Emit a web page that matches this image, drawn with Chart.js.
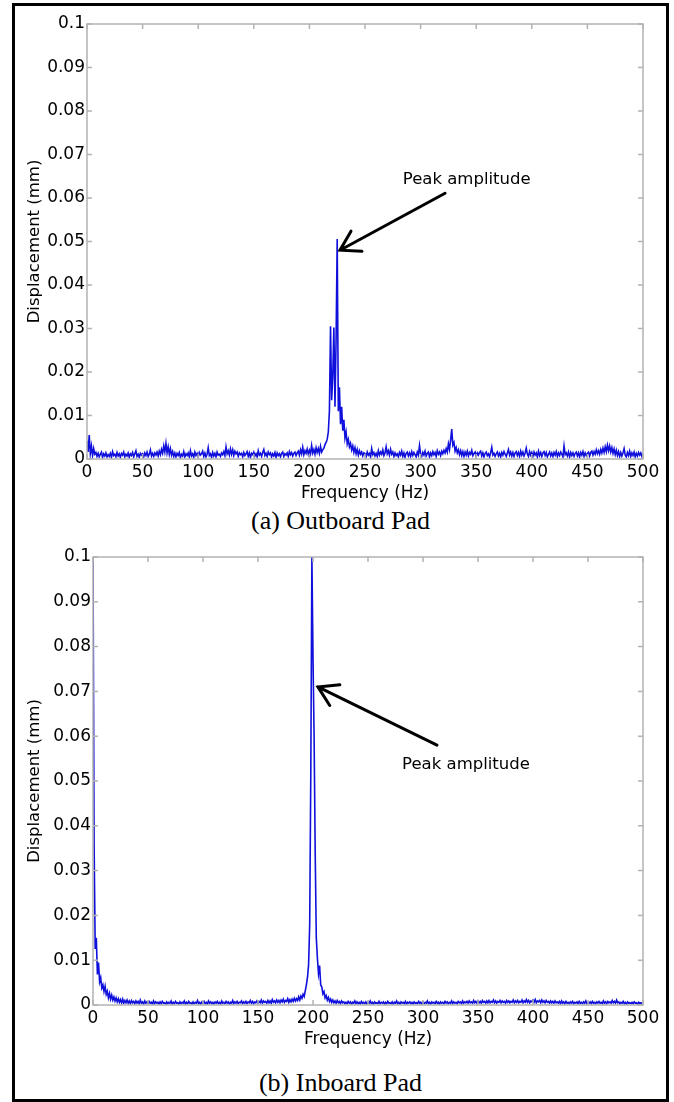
<!DOCTYPE html>
<html>
<head>
<meta charset="utf-8">
<script src="https://cdn.jsdelivr.net/npm/chart.js@4.4.1/dist/chart.umd.min.js"></script>
<style>
  body { margin: 0; background: #fff; width: 674px; height: 1102px; position: relative; overflow: hidden; }
  .frame { position: absolute; left: 12px; top: 3px; width: 657px; height: 1099px; border: 3px solid #000; box-sizing: border-box; z-index: 2; }
  canvas { position: absolute; }
  #outboard { left: 14px; top: 5px; }
  #inboard { left: 14px; top: 540px; }
  .caption { position: absolute; left: 12px; width: 657px; text-align: center; font-family: "Liberation Serif", serif; font-size: 26px; line-height: 30px; color: #000; }
</style>
</head>
<body>
<div class="frame"></div>
<canvas id="outboard" width="653" height="500"></canvas>
<div class="caption" style="top:506px">(a) Outboard Pad</div>
<canvas id="inboard" width="653" height="511"></canvas>
<div class="caption" style="top:1068px">(b) Inboard Pad</div>

<script>
// frequency bins, 1 Hz apart
const freqStep = 1;
const freq = [];
for (let f = 0; f <= 500; f += freqStep) freq.push(f);

const xTicks = [0, 50, 100, 150, 200, 250, 300, 350, 400, 450, 500];
const yTicks = [0, 0.01, 0.02, 0.03, 0.04, 0.05, 0.06, 0.07, 0.08, 0.09, 0.1];

// (a) Outboard Pad - displacement (mm) per bin
const dispOutboard = [
  .0042,.0016,.0055,.0012,.0030,.0008,.0024,.0011,.0015,.0006,
  .0013,.0005,.0011,.0016,.0004,.0012,.0007,.0014,.0005,.0010,
  .0006,.0013,.0004,.0017,.0008,.0011,.0005,.0015,.0007,.0012,
  .0004,.0013,.0009,.0016,.0005,.0011,.0007,.0014,.0004,.0012,
  .0008,.0015,.0005,.0012,.0019,.0006,.0011,.0004,.0013,.0009,
  .0012,.0005,.0014,.0008,.0016,.0006,.0011,.0021,.0007,.0013,
  .0006,.0014,.0009,.0016,.0007,.0018,.0010,.0022,.0013,.0030,
  .0016,.0036,.0014,.0028,.0011,.0024,.0009,.0017,.0006,.0014,
  .0005,.0013,.0008,.0015,.0004,.0011,.0007,.0017,.0005,.0012,
  .0008,.0014,.0005,.0019,.0007,.0012,.0004,.0016,.0008,.0013,
  .0005,.0015,.0009,.0012,.0018,.0006,.0014,.0005,.0011,.0026,
  .0008,.0012,.0004,.0015,.0007,.0013,.0005,.0016,.0009,.0011,
  .0006,.0014,.0010,.0017,.0008,.0028,.0012,.0019,.0009,.0023,
  .0011,.0021,.0008,.0018,.0012,.0016,.0006,.0014,.0010,.0013,
  .0005,.0015,.0008,.0012,.0017,.0006,.0014,.0004,.0013,.0010,
  .0016,.0007,.0012,.0005,.0019,.0009,.0013,.0006,.0015,.0022,
  .0008,.0013,.0006,.0016,.0010,.0014,.0005,.0012,.0007,.0015,
  .0004,.0014,.0008,.0012,.0005,.0013,.0016,.0006,.0012,.0009,
  .0014,.0006,.0017,.0010,.0015,.0007,.0013,.0016,.0008,.0014,
  .0018,.0009,.0021,.0012,.0027,.0010,.0019,.0013,.0023,.0011,
  .0020,.0012,.0031,.0014,.0022,.0011,.0026,.0015,.0024,.0013,
  .0029,.0016,.0021,.0025,.0033,.0038,.0045,.0062,.0110,.0305,
  .0135,.0189,.0302,.0120,.0274,.0506,.0110,.0165,.0080,.0120,
  .0065,.0090,.0048,.0062,.0035,.0045,.0028,.0036,.0021,.0030,
  .0015,.0026,.0012,.0022,.0009,.0019,.0011,.0016,.0007,.0014,
  .0012,.0006,.0016,.0009,.0013,.0005,.0024,.0010,.0015,.0007,
  .0013,.0006,.0019,.0009,.0016,.0011,.0021,.0008,.0014,.0028,
  .0012,.0019,.0009,.0022,.0011,.0016,.0006,.0014,.0008,.0012,
  .0005,.0015,.0009,.0018,.0006,.0014,.0004,.0013,.0016,.0007,
  .0014,.0006,.0017,.0008,.0015,.0010,.0005,.0016,.0009,.0031,
  .0011,.0006,.0015,.0009,.0018,.0007,.0013,.0016,.0005,.0014,
  .0008,.0017,.0010,.0015,.0006,.0019,.0011,.0016,.0008,.0018,
  .0012,.0020,.0014,.0024,.0016,.0035,.0022,.0044,.0069,.0032,
  .0038,.0018,.0026,.0014,.0021,.0010,.0019,.0008,.0017,.0006,
  .0016,.0009,.0018,.0007,.0015,.0011,.0020,.0008,.0013,.0016,
  .0006,.0014,.0009,.0015,.0018,.0007,.0014,.0005,.0013,.0016,
  .0008,.0012,.0005,.0015,.0027,.0009,.0013,.0006,.0012,.0016,
  .0007,.0013,.0005,.0015,.0009,.0017,.0011,.0006,.0014,.0022,
  .0009,.0016,.0007,.0015,.0006,.0014,.0017,.0008,.0015,.0006,
  .0018,.0009,.0016,.0007,.0014,.0025,.0011,.0006,.0017,.0009,
  .0015,.0006,.0016,.0009,.0014,.0005,.0018,.0008,.0015,.0006,
  .0014,.0017,.0008,.0015,.0005,.0011,.0016,.0007,.0014,.0006,
  .0015,.0009,.0017,.0006,.0014,.0008,.0016,.0011,.0005,.0030,
  .0010,.0014,.0007,.0016,.0005,.0015,.0008,.0014,.0006,.0013,
  .0016,.0007,.0014,.0005,.0015,.0009,.0017,.0006,.0014,.0008,
  .0013,.0016,.0007,.0015,.0018,.0009,.0017,.0011,.0021,.0012,
  .0019,.0011,.0022,.0014,.0025,.0015,.0028,.0017,.0032,.0019,
  .0030,.0016,.0026,.0013,.0023,.0010,.0020,.0008,.0017,.0006,
  .0015,.0007,.0014,.0024,.0009,.0005,.0015,.0008,.0018,.0006,
  .0014,.0008,.0016,.0005,.0013,.0007,.0015,.0009,.0014,.0006,
  .0013
];

// (b) Inboard Pad - displacement (mm) per bin
const dispInboard = [
  .1000,.0360,.0125,.0150,.0068,.0095,.0052,.0061,.0038,.0045,
  .0030,.0042,.0024,.0031,.0016,.0026,.0013,.0022,.0011,.0018,
  .0009,.0016,.0007,.0014,.0006,.0012,.0005,.0013,.0004,.0010,
  .0005,.0011,.0004,.0009,.0003,.0010,.0005,.0008,.0003,.0009,
  .0004,.0008,.0003,.0011,.0004,.0007,.0002,.0009,.0004,.0007,
  .0003,.0008,.0004,.0006,.0002,.0009,.0003,.0007,.0004,.0006,
  .0002,.0007,.0003,.0008,.0004,.0005,.0002,.0007,.0003,.0006,
  .0004,.0009,.0002,.0006,.0003,.0008,.0004,.0005,.0002,.0007,
  .0003,.0006,.0004,.0009,.0002,.0006,.0003,.0008,.0004,.0005,
  .0002,.0007,.0003,.0006,.0004,.0010,.0003,.0006,.0002,.0007,
  .0004,.0008,.0003,.0006,.0002,.0009,.0004,.0007,.0003,.0006,
  .0002,.0007,.0004,.0008,.0003,.0006,.0002,.0009,.0004,.0006,
  .0003,.0008,.0004,.0007,.0002,.0006,.0004,.0010,.0003,.0007,
  .0004,.0008,.0003,.0006,.0005,.0009,.0003,.0007,.0004,.0008,
  .0003,.0007,.0005,.0010,.0004,.0008,.0003,.0007,.0005,.0009,
  .0004,.0008,.0005,.0011,.0004,.0009,.0006,.0008,.0004,.0010,
  .0005,.0009,.0004,.0012,.0006,.0009,.0005,.0011,.0006,.0010,
  .0005,.0011,.0007,.0013,.0006,.0010,.0008,.0014,.0006,.0012,
  .0007,.0013,.0008,.0015,.0009,.0014,.0010,.0018,.0011,.0020,
  .0015,.0024,.0019,.0032,.0045,.0062,.0090,.0180,.0520,.1000,
  .0777,.0600,.0340,.0150,.0105,.0070,.0088,.0045,.0040,.0025,
  .0030,.0016,.0021,.0011,.0017,.0008,.0013,.0006,.0011,.0005,
  .0009,.0004,.0010,.0005,.0008,.0003,.0009,.0005,.0007,.0003,
  .0006,.0003,.0008,.0004,.0007,.0002,.0006,.0004,.0009,.0003,
  .0007,.0003,.0006,.0002,.0008,.0004,.0006,.0003,.0007,.0002,
  .0006,.0004,.0009,.0003,.0006,.0002,.0007,.0004,.0005,.0003,
  .0008,.0003,.0006,.0004,.0007,.0002,.0006,.0003,.0008,.0004,
  .0005,.0003,.0007,.0002,.0006,.0004,.0009,.0003,.0006,.0002,
  .0007,.0004,.0006,.0003,.0008,.0002,.0006,.0004,.0007,.0003,
  .0006,.0002,.0007,.0004,.0005,.0003,.0008,.0004,.0006,.0002,
  .0007,.0003,.0006,.0004,.0009,.0003,.0006,.0002,.0007,.0004,
  .0006,.0003,.0008,.0004,.0006,.0002,.0007,.0004,.0006,.0003,
  .0008,.0004,.0007,.0003,.0006,.0004,.0009,.0003,.0007,.0004,
  .0006,.0003,.0008,.0005,.0007,.0003,.0009,.0004,.0007,.0005,
  .0008,.0004,.0009,.0005,.0007,.0004,.0010,.0005,.0008,.0004,
  .0009,.0005,.0008,.0004,.0010,.0006,.0008,.0004,.0009,.0005,
  .0010,.0005,.0008,.0006,.0011,.0005,.0009,.0004,.0008,.0006,
  .0010,.0005,.0009,.0006,.0008,.0004,.0010,.0006,.0009,.0005,
  .0008,.0006,.0011,.0005,.0009,.0006,.0010,.0005,.0008,.0006,
  .0011,.0005,.0009,.0006,.0012,.0006,.0010,.0005,.0009,.0007,
  .0011,.0006,.0012,.0005,.0009,.0007,.0010,.0005,.0011,.0006,
  .0009,.0005,.0010,.0006,.0008,.0004,.0009,.0005,.0008,.0004,
  .0009,.0005,.0007,.0004,.0008,.0003,.0009,.0004,.0007,.0003,
  .0008,.0004,.0006,.0003,.0007,.0004,.0008,.0003,.0006,.0004,
  .0007,.0003,.0008,.0004,.0006,.0003,.0007,.0004,.0009,.0003,
  .0006,.0004,.0007,.0003,.0008,.0004,.0006,.0003,.0007,.0004,
  .0008,.0004,.0006,.0003,.0009,.0004,.0007,.0003,.0008,.0005,
  .0007,.0004,.0010,.0005,.0008,.0004,.0011,.0005,.0007,.0003,
  .0006,.0004,.0008,.0003,.0006,.0002,.0007,.0004,.0005,.0003,
  .0006,.0003,.0007,.0004,.0005,.0002,.0006,.0004,.0005,.0003,
  .0005
];

// arrow + label, given in data units (Hz, mm)
const noteOutboard = { tip: [227.5, 0.048], tail: [322, 0.0611], label: [284, 0.0641], text: "Peak amplitude" };
const noteInboard = { tip: [204.5, 0.071], tail: [312.7, 0.058], label: [281, 0.0536], text: "Peak amplitude" };

const sans = "'DejaVu Sans', sans-serif";

// matplotlib-like grey box with inward ticks on every side
const axisFrame = {
  id: "axisFrame",
  afterDatasetsDraw(chart) {
    const { ctx, chartArea: a, scales } = chart;
    ctx.save();
    ctx.strokeStyle = "#b3b3b3";
    ctx.lineWidth = 1.5;
    ctx.strokeRect(a.left, a.top, a.right - a.left, a.bottom - a.top);
    ctx.beginPath();
    scales.x.ticks.forEach((t) => {
      const px = scales.x.getPixelForValue(t.value);
      ctx.moveTo(px, a.top);
      ctx.lineTo(px, a.top + 5);
      ctx.moveTo(px, a.bottom);
      ctx.lineTo(px, a.bottom - 5);
    });
    scales.y.ticks.forEach((t) => {
      const py = scales.y.getPixelForValue(t.value);
      ctx.moveTo(a.left, py);
      ctx.lineTo(a.left + 5, py);
      ctx.moveTo(a.right, py);
      ctx.lineTo(a.right - 5, py);
    });
    ctx.stroke();
    ctx.restore();
  },
};

const peakNote = {
  id: "peakNote",
  afterDraw(chart, args, opts) {
    if (!opts || !opts.tip) return;
    const { ctx, scales: { x, y } } = chart;
    const tx = x.getPixelForValue(opts.tip[0]);
    const ty = y.getPixelForValue(opts.tip[1]);
    const sx = x.getPixelForValue(opts.tail[0]);
    const sy = y.getPixelForValue(opts.tail[1]);
    const ang = Math.atan2(sy - ty, sx - tx);
    const head = 22;
    ctx.save();
    ctx.strokeStyle = "#000";
    ctx.lineWidth = 3;
    ctx.lineCap = "round";
    ctx.beginPath();
    ctx.moveTo(sx, sy);
    ctx.lineTo(tx, ty);
    ctx.moveTo(tx + head * Math.cos(ang - 0.55), ty + head * Math.sin(ang - 0.55));
    ctx.lineTo(tx, ty);
    ctx.lineTo(tx + head * Math.cos(ang + 0.55), ty + head * Math.sin(ang + 0.55));
    ctx.stroke();
    ctx.fillStyle = "#000";
    ctx.font = "16.5px " + sans;
    ctx.textAlign = "left";
    ctx.textBaseline = "middle";
    ctx.fillText(opts.text, x.getPixelForValue(opts.label[0]), y.getPixelForValue(opts.label[1]));
    ctx.restore();
  },
};

const renderSpectrum = (id, disp, note, yWidth, topPad) => {
  const points = freq.map((f, i) => ({ x: f, y: disp[i] }));
  new Chart(document.getElementById(id), {
    type: "line",
    data: {
      datasets: [
        {
          data: points,
          borderColor: "#1010dc",
          borderWidth: 1.6,
          pointRadius: 0,
          tension: 0,
          fill: false,
        },
      ],
    },
    options: {
      responsive: false,
      animation: false,
      events: [],
      layout: { padding: { top: topPad, right: 24, left: 0, bottom: 0 } },
      plugins: {
        legend: { display: false },
        tooltip: { enabled: false },
        peakNote: note,
      },
      scales: {
        x: {
          type: "linear",
          min: 0,
          max: 500,
          afterBuildTicks: (scale) => {
            scale.ticks = xTicks.map((v) => ({ value: v }));
          },
          afterFit: (scale) => {
            scale.height = 46;
          },
          grid: { display: false, drawTicks: false },
          border: { display: false },
          ticks: {
            autoSkip: false,
            maxRotation: 0,
            padding: 3,
            color: "#000",
            font: { family: sans, size: 17 },
          },
          title: {
            display: true,
            text: "Frequency (Hz)",
            color: "#000",
            font: { family: sans, size: 17 },
            padding: { top: 0, bottom: 1 },
          },
        },
        y: {
          min: 0,
          max: 0.1,
          afterBuildTicks: (scale) => {
            scale.ticks = yTicks.map((v) => ({ value: v }));
          },
          afterFit: (scale) => {
            scale.width = yWidth;
          },
          grid: { display: false, drawTicks: false },
          border: { display: false },
          ticks: {
            padding: 2,
            color: "#000",
            font: { family: sans, size: 17 },
            callback: (v) => String(parseFloat(Number(v).toFixed(2))),
          },
          title: {
            display: true,
            text: "Displacement (mm)",
            color: "#000",
            font: { family: sans, size: 16.5 },
            padding: { top: 11, bottom: 0 },
          },
        },
      },
    },
    plugins: [axisFrame, peakNote],
  });
};

renderSpectrum("outboard", dispOutboard, noteOutboard, 73, 19);
renderSpectrum("inboard", dispInboard, noteInboard, 79, 17);
</script>
</body>
</html>
